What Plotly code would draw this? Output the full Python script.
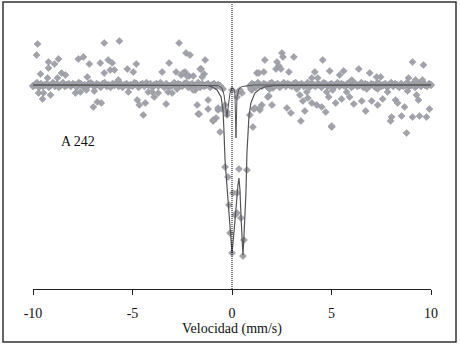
import plotly.graph_objects as go

# ---------------- data (velocity in mm/s, relative transmission in %) ----------------
# dense baseline band of the measured spectrum
band_left_v = [-10.1, -10.0, -9.9, -9.8, -9.7, -9.6, -9.5, -9.4, -9.3, -9.2, -9.1, -9.0,
               -8.9, -8.8, -8.7, -8.6, -8.5, -8.4, -8.3, -8.2, -8.1, -8.0, -7.9, -7.8,
               -7.7, -7.6, -7.5, -7.4, -7.3, -7.2, -7.1, -7.0, -6.9, -6.8, -6.7, -6.6,
               -6.5, -6.4, -6.3, -6.2, -6.1, -6.0, -5.9, -5.8, -5.7, -5.6, -5.5, -5.4,
               -5.3, -5.2, -5.1, -5.0, -4.9, -4.8, -4.7, -4.6, -4.5, -4.4, -4.3, -4.2,
               -4.1, -4.0, -3.9, -3.8, -3.7, -3.6, -3.5, -3.4, -3.3, -3.2, -3.1, -3.0,
               -2.9, -2.8, -2.7, -2.6, -2.5, -2.4, -2.3, -2.2, -2.1, -2.0, -1.9, -1.8,
               -1.7, -1.6, -1.5, -1.4, -1.3, -1.2, -1.1, -1.0, -0.9, -0.8, -0.7, -0.6]
band_left_t = [100.1, 99.9, 100.0, 100.2, 99.8, 100.1, 99.9, 100.0, 100.1, 99.8,
               100.0, 100.2, 99.9, 100.1, 99.8, 100.0, 100.2, 99.9, 100.0, 100.1,
               99.9, 100.1, 100.0, 99.8, 100.2, 100.1, 99.9, 100.0, 99.8, 100.1,
               100.2, 100.0, 99.9, 100.1, 100.0, 99.8, 100.1, 100.2, 99.9, 100.0,
               99.8, 100.1, 100.0, 100.2, 99.9, 100.1, 99.8, 100.0, 100.1, 99.9,
               100.0, 99.9, 100.2, 100.1, 99.8, 100.0, 100.1, 99.9, 100.2, 100.0,
               100.1, 99.8, 100.0, 100.1, 99.9, 100.2, 100.0, 99.8, 100.1, 99.9,
               99.9, 100.0, 100.2, 99.8, 100.1, 100.0, 99.9, 100.1, 100.2, 99.8,
               100.0, 100.1, 99.9, 100.0, 100.2, 99.8, 100.1, 99.9, 100.0, 100.1,
               99.8, 100.0, 100.1, 99.9, 100.0, 99.9]
band_right_v = [0.9, 1.0, 1.1, 1.2, 1.3, 1.4, 1.5, 1.6, 1.7, 1.8, 1.9, 2.0, 2.1, 2.2,
                2.3, 2.4, 2.5, 2.6, 2.7, 2.8, 2.9, 3.0, 3.1, 3.2, 3.3, 3.4, 3.5, 3.6,
                3.7, 3.8, 3.9, 4.0, 4.1, 4.2, 4.3, 4.4, 4.5, 4.6, 4.7, 4.8, 4.9, 5.0,
                5.1, 5.2, 5.3, 5.4, 5.5, 5.6, 5.7, 5.8, 5.9, 6.0, 6.1, 6.2, 6.3, 6.4,
                6.5, 6.6, 6.7, 6.8, 6.9, 7.0, 7.1, 7.2, 7.3, 7.4, 7.5, 7.6, 7.7, 7.8,
                7.9, 8.0, 8.1, 8.2, 8.3, 8.4, 8.5, 8.6, 8.7, 8.8, 8.9, 9.0, 9.1, 9.2,
                9.3, 9.4, 9.5, 9.6, 9.7, 9.8, 9.9, 10.0, 10.1, 10.2]
band_right_t = [99.9, 100.1, 100.0, 99.8, 100.2, 100.0, 99.9, 100.1, 100.0, 99.8,
                100.1, 100.2, 99.9, 100.0, 100.1, 99.8, 100.0, 100.2, 99.9, 100.1,
                100.0, 99.9, 100.1, 100.2, 99.8, 100.0, 100.1, 99.9, 100.0, 100.2,
                99.8, 100.1, 100.0, 99.9, 100.1, 100.0, 99.8, 100.2, 100.1, 99.9,
                100.0, 100.1, 99.8, 100.0, 100.2, 99.9, 100.1, 100.0, 99.9, 100.1,
                100.2, 99.8, 100.0, 100.1, 99.9, 100.0, 100.2, 99.8, 100.1, 100.0,
                99.9, 100.1, 100.0, 99.8, 100.2, 100.1, 99.9, 100.0, 100.1, 99.8,
                100.0, 100.2, 99.9, 100.1, 100.0, 99.8, 100.1, 99.9, 100.0, 100.2,
                99.9, 100.0, 100.1, 99.8, 100.0, 100.1, 99.9, 100.2, 100.0, 99.9,
                100.1, 100.0, 99.9, 100.0]

# scattered measured points away from the baseline
scatter_v = [-9.77, -9.82, -6.42, -5.66, -9.22, -8.72, -8.92, -9.22, -7.72, -7.47,
             -7.17, -6.62, -6.22, -6.02, -9.62, -9.27, -8.77, -8.57, -8.37, -7.27,
             -6.42, -6.12, -5.91, -5.26, -5.71, -10.03, -9.72, -9.47, -9.12, -9.52,
             -7.87, -7.62, -7.32, -6.92, -5.21, -6.77, -6.57, -6.97,
             -2.66, -2.31, -2.11, -1.35, -4.81, -4.96, -3.16, -3.51, -2.81, -2.56,
             -2.36, -2.16, -1.95, -1.55, -1.40, -1.50, -4.21, -4.01, -3.71, -3.21,
             -3.01, -2.76, -1.85, -4.76, -4.36, -4.66, -3.91, -3.31, -1.75, -1.70,
             -1.20, -1.20, -4.46, -0.80, -0.95, -0.60, -0.70,
             2.51, 2.56, 3.11, 1.65, 2.26, 2.36, 2.21, 2.46, 2.86, 1.25, 1.60, 4.56,
             4.16, 4.91, 4.01, 4.31, 1.00, 2.06, 3.26, 3.76, 4.76, 1.85, 3.41, 3.81,
             3.56, 4.01, 4.26, 4.51, 4.86, 1.50, 1.40, 1.10, 2.01, 2.76, 2.96, 3.66,
             4.71, 3.46, 0.90, 1.05, 5.01,
             9.07, 9.62, 10.03, 6.37, 5.61, 5.41, 6.92, 7.27, 7.47, 6.02, 8.87, 9.22,
             9.57, 5.06, 5.76, 6.77, 7.32, 7.82, 8.82, 5.91, 5.51, 6.52, 7.02, 7.57,
             8.22, 8.32, 9.27, 9.37, 5.21, 6.12, 7.32, 8.67, 9.92, 6.72, 8.02, 7.97,
             8.52, 9.07, 9.42, 9.77, 5.01, 8.77,
             -1.60, -2.46, -2.26, -1.95, 0.95, 1.35, 1.90, 1.80, -1.65, -0.95, 1.15,
             1.40, -0.70, -0.50]
scatter_t = [104.1, 103.0, 104.2, 104.4, 102.3, 102.6, 102.1, 101.7, 102.6, 102.8,
             102.1, 102.2, 102.5, 102.2, 101.1, 100.7, 100.7, 101.2, 101.0, 100.8,
             101.2, 101.5, 101.5, 101.6, 100.5, 99.3, 99.2, 99.2, 99.0, 98.6,
             99.2, 99.3, 99.5, 99.4, 99.3, 98.3, 98.2, 97.8,
             104.2, 103.2, 103.0, 102.5, 102.1, 101.3, 102.2, 101.3, 101.3, 101.0,
             101.3, 100.9, 100.9, 101.6, 101.1, 100.8, 99.3, 99.3, 99.2, 99.3,
             99.2, 99.6, 99.5, 98.5, 98.2, 98.0, 98.8, 98.1, 98.0, 97.1,
             97.6, 98.5, 97.0, 96.7, 96.4, 95.3, 97.5,
             103.2, 102.8, 102.8, 102.5, 102.3, 101.9, 101.6, 101.6, 101.3, 101.2, 101.3, 102.5,
             101.3, 101.4, 100.7, 100.7, 99.5, 99.7, 99.6, 99.3, 99.3, 98.9, 99.0, 98.7,
             98.4, 98.2, 98.0, 97.8, 98.8, 98.0, 97.5, 97.6, 98.0, 97.7, 97.2, 97.4,
             97.3, 96.4, 97.0, 95.8, 95.8,
             102.3, 102.0, 101.7, 101.6, 101.4, 101.0, 101.2, 100.8, 100.8, 100.5, 100.7, 100.5,
             100.5, 99.5, 99.3, 99.6, 99.6, 99.3, 99.4, 98.8, 98.6, 98.4, 98.4, 98.6,
             98.5, 98.2, 99.0, 98.5, 98.2, 98.1, 98.0, 97.8, 97.6, 97.4, 96.8, 96.4,
             96.9, 96.8, 96.9, 96.8, 95.9, 95.2,
             101.6, 101.2, 100.9, 99.5, 99.6, 101.2, 99.6, 98.8, 97.1, 96.5, 97.7,
             97.7, 97.7, 97.6]

# measured points inside the absorption doublet
dip_v = [-0.35, -0.25, -0.25, 0.00, 0.25, 0.30, 0.50, -0.35, -0.20, 0.35, -0.15,
         0.15, 0.25, 0.00, 0.55, 0.45, 0.60, 0.75, -0.10, 0.05, 0.25, -0.45, 0.40]
dip_t = [98.0, 97.3, 97.0, 99.5, 98.8, 99.3, 99.2, 91.8, 90.8, 91.6, 88.0,
         87.0, 87.2, 83.2, 82.9, 86.7, 84.5, 91.5, 85.2, 89.2, 89.2, 99.6, 99.5]

# total fitted envelope
fit_v = [-10.1, -1.6, -1.2, -0.95, -0.75, -0.55, -0.45, -0.40, -0.35, -0.25, -0.15,
         0.00, 0.10, 0.20, 0.30, 0.35, 0.40, 0.45, 0.50, 0.55, 0.60, 0.70, 0.75,
         0.80, 0.85, 0.95, 1.15, 1.40, 1.65, 2.15, 10.2]
fit_t = [100.0, 100.0, 99.95, 99.75, 99.5, 98.8, 97.5, 95.2, 92.5, 89.8, 86.8,
         83.2, 85.3, 88.0, 90.0, 90.7, 89.5, 87.0, 84.7, 83.0, 84.8, 89.2, 93.2,
         95.3, 96.8, 98.2, 99.2, 99.6, 99.8, 99.95, 100.0]

# narrow sub-spectrum component
comp_v = [-10.1, -1.0, -0.7, -0.5, -0.4, -0.32, -0.25, -0.18, -0.1, 0.0, 0.1,
          0.15, 0.2, 0.25, 0.35, 0.5, 0.8, 1.1, 10.2]
comp_t = [100.0, 100.0, 99.95, 99.7, 99.0, 97.8, 96.8, 98.0, 99.2, 99.7, 99.6,
          99.0, 94.7, 98.8, 99.6, 99.85, 99.95, 100.0, 100.0]

x_ticks = [-10, -5, 0, 5, 10]
x_title = "Velocidad (mm/s)"
sample_label = "A 242"

# ---------------- figure ----------------
point_color = "#a2a2aa"
line_color = "#555555"
serif = "Liberation Serif"

fig = go.Figure()

marker = dict(symbol="diamond", size=5.5, color=point_color,
              line=dict(width=0.4, color="#8a8a98"))
band_marker = dict(symbol="diamond", size=6, color=point_color,
                   line=dict(width=0.4, color="#8a8a98"))

fig.add_trace(go.Scatter(x=band_left_v + band_right_v, y=band_left_t + band_right_t,
                         mode="markers", marker=band_marker, cliponaxis=False,
                         hoverinfo="skip"))
fig.add_trace(go.Scatter(x=scatter_v, y=scatter_t, mode="markers", marker=marker,
                         cliponaxis=False))
fig.add_trace(go.Scatter(x=dip_v, y=dip_t, mode="markers", marker=marker,
                         cliponaxis=False))
fig.add_trace(go.Scatter(x=comp_v, y=comp_t, mode="lines",
                         line=dict(color=line_color, width=1), cliponaxis=False))
fig.add_trace(go.Scatter(x=fit_v, y=fit_t, mode="lines",
                         line=dict(color=line_color, width=1.2), cliponaxis=False))

# dotted zero-velocity line
fig.add_shape(type="line", xref="x", yref="paper", x0=0, x1=0, y0=0, y1=1,
              line=dict(color="black", width=1, dash="1px,1px"))
# outer frame
fig.add_shape(type="rect", xref="paper", yref="paper",
              x0=-30 / 398, x1=1 + 25 / 398, y0=-53 / 286, y1=1 + 1 / 286,
              line=dict(color="#333333", width=1.5))

fig.add_annotation(x=-7.74, y=94.4, text=sample_label, showarrow=False,
                   font=dict(family=serif, size=14, color="#111111"))

fig.update_layout(
    width=460, height=345,
    margin=dict(l=33, r=29, t=3, b=56),
    paper_bgcolor="white", plot_bgcolor="white",
    font=dict(family=serif),
    showlegend=False,
    xaxis=dict(range=[-10, 10], tickvals=x_ticks, ticktext=[str(t) for t in x_ticks],
               showgrid=False, zeroline=False, showline=True, linecolor="#222222",
               linewidth=1, ticks="outside", ticklen=5, tickcolor="#222222",
               ticklabelstandoff=6,
               tickfont=dict(family=serif, size=14, color="#111111"),
               title=dict(text=x_title, font=dict(family=serif, size=14, color="#111111"),
                          standoff=1)),
    yaxis=dict(range=[79.6, 108.2], visible=False, showgrid=False, zeroline=False),
)

fig.write_html("out.html", config={"displayModeBar": False},
               post_script="document.body.style.margin='0';")
